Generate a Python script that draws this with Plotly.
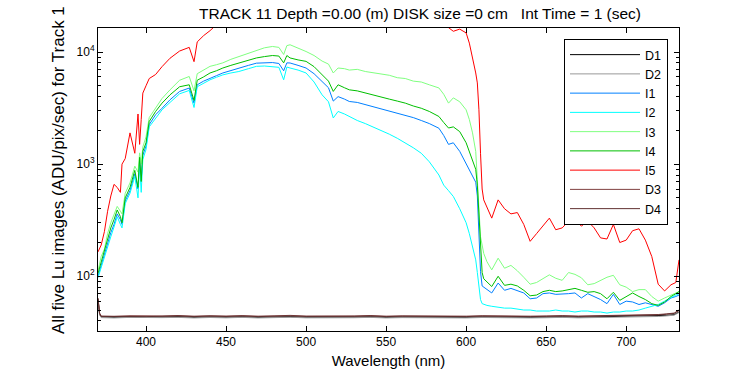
import plotly.graph_objects as go

# ---------------- data ----------------
wl = [370, 372, 374, 376, 378, 380, 382, 384, 385, 387,
      390, 393, 395, 396, 397, 398, 400, 402, 406, 410,
      415, 421, 427, 430, 432, 436, 440, 444, 448, 453,
      458, 464, 469, 474, 479, 483, 486, 488, 490, 495,
      500, 505, 510, 514, 517, 520, 524, 527, 532, 537,
      542, 547, 552, 557, 562, 567, 572, 577, 583, 586,
      589, 592, 596, 600, 602, 604, 606, 607, 608, 609,
      610, 611, 613, 616, 620, 624, 628, 632, 636, 640,
      644, 648, 652, 656, 660, 664, 668, 672, 676, 680,
      684, 688, 692, 696, 700, 704, 708, 712, 716, 720,
      724, 728, 731, 733]

i1 = [100, 125, 160, 200, 245, 290, 360, 320, 290, 470,
      580, 820, 600, 1080, 720, 1200, 1450, 2250, 2760, 3150,
      3750, 4450, 4770, 3500, 5100, 5500, 5850, 6150, 6500, 6850,
      7200, 7600, 7950, 8000, 8050, 7900, 6800, 8000, 7980, 7600,
      7200, 6400, 5450, 4800, 3650, 4000, 3800, 3620, 3550, 3400,
      3250, 3100, 3000, 2850, 2750, 2600, 2450, 2300, 2090, 1800,
      1500, 1550, 1300, 1020, 890, 780, 690, 520, 250, 110,
      82, 80, 76, 71, 87, 75, 78, 75, 71, 63,
      64, 70, 71, 69, 69, 70, 71, 64, 70, 66,
      62, 57, 69, 56, 60, 59, 56, 58, 56, 54,
      58, 64, 66, 68]

i2 = [97, 120, 150, 190, 225, 275, 340, 290, 270, 445,
      550, 780, 500, 1020, 560, 1100, 1350, 2150, 2580, 3050,
      3550, 4240, 4540, 3200, 4900, 5300, 5650, 5950, 6250, 6500,
      6700, 7100, 7450, 7500, 7450, 7300, 5650, 7350, 7200, 6900,
      6500, 5400, 4150, 3600, 2580, 2950, 2800, 2660, 2450, 2300,
      2150, 2000, 1850, 1700, 1550, 1400, 1250, 1050, 800, 650,
      580, 515, 400, 300, 240, 185, 140, 108, 85, 62,
      57, 56, 55, 54, 53, 52, 52, 51, 50, 50,
      49, 49, 49, 50, 49, 49, 48, 49, 49, 48,
      48, 47, 48, 48, 49, 49, 50, 52, 54, 56,
      60, 65, 68, 70]

i3 = [112, 150, 175, 240, 300, 350, 420, 380, 360, 550,
      680, 960, 850, 1260, 1000, 1420, 1750, 2600, 3150, 3850,
      4600, 5600, 6050, 4500, 6400, 6900, 7450, 7700, 8000, 8600,
      9100, 9700, 10400, 10900, 11200, 11000, 9500, 11400, 11600, 10900,
      10100, 9300, 8300, 7800, 6500, 7200, 7100, 6900, 7000, 6700,
      6500, 6300, 6200, 5900, 5800, 5500, 5400, 5100, 4780, 4200,
      3500, 3900, 3600, 3050, 2500, 1900, 1300, 730, 420, 225,
      190, 160, 135, 114, 145, 118, 125, 112, 98, 85,
      88, 95, 103, 96, 92, 108, 104, 97, 84, 86,
      92, 98, 102, 84, 80, 73, 76, 76, 66, 60,
      64, 68, 70, 73]

i4 = [106, 135, 165, 215, 270, 320, 390, 340, 300, 500,
      620, 880, 620, 1150, 700, 1300, 1550, 2400, 2950, 3500,
      4150, 4900, 5100, 3700, 5600, 6000, 6500, 6800, 7200, 7600,
      8000, 8400, 8850, 9100, 9300, 9200, 8000, 9300, 8850, 8500,
      8250, 7400, 6300, 5500, 4450, 5100, 4800, 4600, 4500, 4300,
      4100, 3950, 3800, 3650, 3500, 3300, 3150, 2950, 2660, 2350,
      2100, 2150, 1950, 1550, 1300, 1100, 900, 650, 320, 165,
      108, 95, 89, 81, 100, 83, 85, 82, 75, 67,
      68, 73, 75, 73, 74, 76, 78, 75, 72, 73,
      70, 63, 72, 61, 66, 71, 66, 62, 57, 55,
      59, 66, 70, 73]

i5 = [165, 190, 250, 380, 520, 660, 620, 560, 1000, 1120,
      1900, 1250, 2800, 1500, 2500, 4300, 5000, 5800, 6300, 7400,
      8800, 10200, 11000, 8200, 12300, 14000, 15500, 17500, 19000, 20000,
      21000, 22000, 22500, 23000, 23000, 23000, 22500, 23000, 22500, 22000,
      21500, 21000, 20500, 20000, 19500, 19500, 19500, 19000, 19000, 19000,
      18800, 18800, 18500, 18500, 18500, 18500, 18500, 18500, 18000, 17500,
      16500, 15300, 16000, 14800, 12000, 9100, 6500, 5300, 3050, 1250,
      600, 480, 415, 330, 480, 400, 360, 370, 290, 205,
      240, 280, 330, 260, 270, 310, 320, 280, 310, 270,
      220, 215, 290, 200, 210, 255, 265, 210, 150, 85,
      74, 84, 88, 140]

wl_dark = [370, 371, 372, 380, 390, 400, 410, 420, 430, 440,
           450, 460, 470, 480, 490, 500, 510, 520, 530, 540,
           550, 560, 570, 580, 590, 600, 610, 620, 630, 640,
           650, 660, 670, 680, 690, 700, 710, 720, 725, 730,
           733]

d1 = [62, 46, 43.5, 43, 43.5, 43, 43.2, 43.6, 43, 43.4,
      43.1, 43.5, 43, 43.3, 43.6, 43.1, 43, 43.4, 43.2, 43.5,
      43, 43.3, 43.1, 43.5, 43.2, 43, 43.4, 43.1, 43.3, 43,
      43.2, 43.5, 43.1, 43.3, 43.4, 43.6, 43.9, 44.3, 44.8, 45.5,
      48]
d2 = [60, 45, 42.8, 42.5, 43, 42.6, 42.8, 43, 42.5, 42.9,
      42.6, 43, 42.5, 42.8, 43.1, 42.6, 42.5, 42.9, 42.7, 43,
      42.5, 42.8, 42.6, 43, 42.7, 42.5, 42.9, 42.6, 42.8, 42.5,
      42.7, 43, 42.6, 42.8, 42.9, 43.1, 43.4, 43.8, 44.3, 45,
      47.5]
d3 = [64, 47, 44.2, 44, 44.5, 44.1, 44.3, 44.7, 44.1, 44.5,
      44.2, 44.6, 44.1, 44.4, 44.8, 44.2, 44.1, 44.5, 44.3, 44.7,
      44.1, 44.4, 44.2, 44.6, 44.3, 44.1, 44.5, 44.2, 44.4, 44.1,
      44.3, 44.6, 44.2, 44.4, 44.5, 44.8, 45.1, 45.6, 46.2, 47,
      50]
d4 = [63, 46.5, 43.8, 43.6, 44, 43.7, 43.9, 44.2, 43.7, 44.1,
      43.8, 44.2, 43.7, 44, 44.3, 43.8, 43.7, 44.1, 43.9, 44.2,
      43.7, 44, 43.8, 44.2, 43.9, 43.7, 44.1, 43.8, 44, 43.7,
      43.9, 44.2, 43.8, 44, 44.1, 44.4, 44.7, 45.2, 45.8, 46.6,
      49.5]

x_ticks = [400, 450, 500, 550, 600, 650, 700]
y_ticks = [100, 1000, 10000]
y_ticktext = ["10<sup>2</sup>", "10<sup>3</sup>", "10<sup>4</sup>"]
y_minor = [40, 50, 60, 70, 80, 90,
           200, 300, 400, 500, 600, 700, 800, 900,
           2000, 3000, 4000, 5000, 6000, 7000, 8000, 9000]

title_text = ("TRACK 11 Depth =0.00 (m) DISK size =0 cm\u00a0\u00a0\u00a0"
              "Int Time = 1 (sec)")
x_title = "Wavelength (nm)"
y_title = "All five Lu images (ADU/pix/sec) for Track 1"

series = [
    ("D1", wl_dark, d1, "#000000"),
    ("D2", wl_dark, d2, "#999999"),
    ("I1", wl, i1, "#0080FF"),
    ("I2", wl, i2, "#00FFFF"),
    ("I3", wl, i3, "#80FF80"),
    ("I4", wl, i4, "#00BF00"),
    ("I5", wl, i5, "#FF0000"),
    ("D3", wl_dark, d3, "#804040"),
    ("D4", wl_dark, d4, "#603030"),
]

FONT = "Liberation Sans, Arial, sans-serif"
L, R, T, B = 98, 71, 28, 44          # plot-area margins (px)
PW, PH = 750 - L - R, 375 - T - B    # plot-area size (px)

fig = go.Figure()
for name, xs, ys, col in series:
    fig.add_trace(go.Scatter(x=xs, y=ys, mode="lines", name=name,
                             line=dict(color=col, width=1)))

fig.update_layout(
    width=750, height=375,
    margin=dict(l=L, r=R, t=T, b=B),
    paper_bgcolor="white", plot_bgcolor="white",
    font=dict(family=FONT, size=12, color="black"),
    title=dict(text=title_text, x=420 / 750, xanchor="center",
               xref="container", y=1 - 14 / 375, yanchor="middle",
               yref="container", font=dict(size=15.5, family=FONT)),
    showlegend=True,
    legend=dict(x=(564 - L) / PW, y=(375 - B - 39) / PH,
                xanchor="left", yanchor="top",
                bgcolor="white", bordercolor="black", borderwidth=1,
                font=dict(size=12.5, family=FONT), itemwidth=70,
                entrywidth=106, entrywidthmode="pixels",
                tracegroupgap=0),
    annotations=[dict(text=y_title, textangle=-90, showarrow=False,
                      xref="paper", yref="paper",
                      x=(58 - L) / PW, y=(375 - B - 170) / PH,
                      xanchor="center", yanchor="middle",
                      font=dict(size=17, family=FONT))],
)

fig.update_xaxes(
    range=[370, 733], tickmode="array", tickvals=x_ticks,
    ticks="inside", ticklen=5, tickcolor="black",
    showline=True, linecolor="black", linewidth=1, mirror="ticks",
    showgrid=False, zeroline=False, automargin=False,
    tickfont=dict(size=12, family=FONT),
    title=dict(text=x_title, font=dict(size=15, family=FONT), standoff=7),
)
fig.update_yaxes(
    type="log", range=[1.512, 4.214],
    tickmode="array", tickvals=y_ticks, ticktext=y_ticktext,
    ticks="inside", ticklen=5, tickcolor="black",
    minor=dict(tickmode="array", tickvals=y_minor, ticks="inside",
               ticklen=3, tickcolor="black", showgrid=False),
    showline=True, linecolor="black", linewidth=1, mirror="ticks",
    showgrid=False, zeroline=False, automargin=False,
    tickfont=dict(size=12, family=FONT),
)

fig.write_html("out.html", config={"displayModeBar": False},
               post_script="document.body.style.margin='0';")
